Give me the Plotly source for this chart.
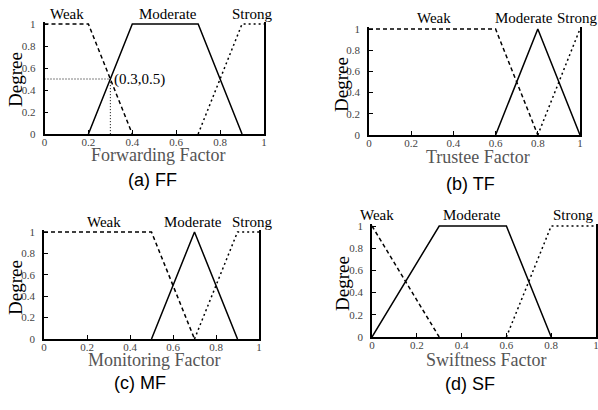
import plotly.graph_objects as go

W, H = 598, 410

# ---- data ----
tick_vals = [0, 0.2, 0.4, 0.6, 0.8, 1]
tick_text = ["0", "0.2", "0.4", "0.6", "0.8", "1"]
set_names = ["Weak", "Moderate", "Strong"]

ff_weak_x, ff_weak_y = [0, 0.2, 0.4], [1, 1, 0]
ff_mod_x, ff_mod_y = [0.2, 0.4, 0.7, 0.9], [0, 1, 1, 0]
ff_str_x, ff_str_y = [0.7, 0.9, 1], [0, 1, 1]
ff_point = (0.3, 0.5)

tf_weak_x, tf_weak_y = [0, 0.6, 0.8], [1, 1, 0]
tf_mod_x, tf_mod_y = [0.6, 0.8, 1], [0, 1, 0]
tf_str_x, tf_str_y = [0.8, 1], [0, 1]

mf_weak_x, mf_weak_y = [0, 0.5, 0.7], [1, 1, 0]
mf_mod_x, mf_mod_y = [0.5, 0.7, 0.9], [0, 1, 0]
mf_str_x, mf_str_y = [0.7, 0.9, 1], [0, 1, 1]

sf_weak_x, sf_weak_y = [0, 0.3], [1, 0]
sf_mod_x, sf_mod_y = [0, 0.3, 0.6, 0.8], [0, 1, 1, 0]
sf_str_x, sf_str_y = [0.6, 0.8, 1], [0, 1, 1]

x_titles = ["Forwarding Factor", "Trustee Factor", "Monitoring Factor", "Swiftness Factor"]
captions = ["(a) FF", "(b) TF", "(c) MF", "(d) SF"]

panels = [
    (ff_weak_x, ff_weak_y, ff_mod_x, ff_mod_y, ff_str_x, ff_str_y),
    (tf_weak_x, tf_weak_y, tf_mod_x, tf_mod_y, tf_str_x, tf_str_y),
    (mf_weak_x, mf_weak_y, mf_mod_x, mf_mod_y, mf_str_x, mf_str_y),
    (sf_weak_x, sf_weak_y, sf_mod_x, sf_mod_y, sf_str_x, sf_str_y),
]

# ---- layout geometry (pixels) ----
# (left, right, top(y=1), bottom(y=0))
boxes = [(44.5, 264, 24, 134), (369, 580, 29, 135), (44, 259, 232, 339), (372, 596, 226, 337)]
label_pos = [
    [(67, 14), (168, 14), (252, 14)],
    [(434, 18), (524, 18), (577, 18)],
    [(104, 222), (193, 222), (252, 222)],
    [(377, 215), (472, 215), (573, 215)],
]
xtitle_pos = [(158, 155), (478, 157), (154, 360), (486, 360)]
ytitle_pos = [(16, 80), (342, 84), (15, 288), (342, 283)]
caption_pos = [(152, 180), (470, 184), (140, 383), (470, 384)]

YTOP = 1.02

def px(x):
    return x / W

def py(y):
    return 1 - y / H

SERIF = "Liberation Serif, Times New Roman, serif"
SANS = "Liberation Sans, Arial, sans-serif"

fig = go.Figure()
annotations = []
layout = {}

styles = [dict(dash="4px,3px"), dict(dash="solid"), dict(dash="2px,3px")]

for i, (box, data) in enumerate(zip(boxes, panels)):
    l, r, t, b = box
    t_ext = b - (b - t) * YTOP
    sfx = "" if i == 0 else str(i + 1)
    xa, ya = "x" + sfx, "y" + sfx
    layout["xaxis" + sfx] = dict(
        domain=[px(l), px(r)], range=[0, 1], anchor=ya,
        tickvals=tick_vals, ticktext=tick_text, ticks="inside", ticklen=4,
        tickcolor="black", showline=True, linecolor="black", linewidth=1.5,
        showgrid=False, zeroline=False, automargin=False,
        ticklabelstandoff=-3, ticklabeloverflow="allow",
        tickfont=dict(family=SERIF, size=11, color="#444"),
        fixedrange=True,
    )
    layout["yaxis" + sfx] = dict(
        domain=[py(b), py(t_ext)], range=[0, YTOP], anchor=xa,
        tickvals=tick_vals, ticktext=tick_text, ticks="inside", ticklen=4,
        tickcolor="black", showline=True, linecolor="black", linewidth=1.5,
        mirror=True, showgrid=False, zeroline=False, automargin=False,
        ticklabelstandoff=5, ticklabeloverflow="allow",
        tickfont=dict(family=SERIF, size=11, color="#444"),
        fixedrange=True,
    )
    for k in range(3):
        fig.add_trace(go.Scatter(
            x=data[2 * k], y=data[2 * k + 1], mode="lines",
            line=dict(color="black", width=1.5, **styles[k]),
            xaxis=xa, yaxis=ya, showlegend=False, hoverinfo="skip",
        ))
        lx, ly = label_pos[i][k]
        annotations.append(dict(
            x=px(lx), y=py(ly), xref="paper", yref="paper", text=set_names[k],
            showarrow=False, xanchor="center", yanchor="middle",
            font=dict(family=SERIF, size=15, color="black"),
        ))
    tx, ty = xtitle_pos[i]
    annotations.append(dict(
        x=px(tx), y=py(ty), xref="paper", yref="paper", text=x_titles[i],
        showarrow=False, xanchor="center", yanchor="middle",
        font=dict(family=SERIF, size=18, color="#555"),
    ))
    dx, dy = ytitle_pos[i]
    annotations.append(dict(
        x=px(dx), y=py(dy), xref="paper", yref="paper", text="Degree",
        showarrow=False, xanchor="center", yanchor="middle", textangle=-90,
        font=dict(family=SERIF, size=19, color="black"),
    ))
    cx, cy = caption_pos[i]
    annotations.append(dict(
        x=px(cx), y=py(cy), xref="paper", yref="paper", text=captions[i],
        showarrow=False, xanchor="center", yanchor="middle",
        font=dict(family=SANS, size=18, color="black"),
    ))

# guide lines to the highlighted point in (a)
gx, gy = ff_point
fig.add_trace(go.Scatter(
    x=[0, gx, gx], y=[gy, gy, 0], mode="lines",
    line=dict(color="black", width=1, dash="1px,2px"),
    xaxis="x", yaxis="y", showlegend=False, hoverinfo="skip",
))
annotations.append(dict(
    x=gx, y=gy, xref="x", yref="y", text="(%g,%g)" % (gx, gy),
    showarrow=False, xanchor="left", yanchor="middle", xshift=2,
    font=dict(family=SERIF, size=15, color="black"),
))

fig.update_layout(
    width=W, height=H, margin=dict(l=0, r=0, t=0, b=0),
    paper_bgcolor="white", plot_bgcolor="white",
    annotations=annotations, showlegend=False, **layout,
)

fig.write_html(
    "out.html",
    config={"displayModeBar": False},
    post_script="document.body.style.margin='0';document.body.style.padding='0';document.body.style.overflow='hidden';",
)
